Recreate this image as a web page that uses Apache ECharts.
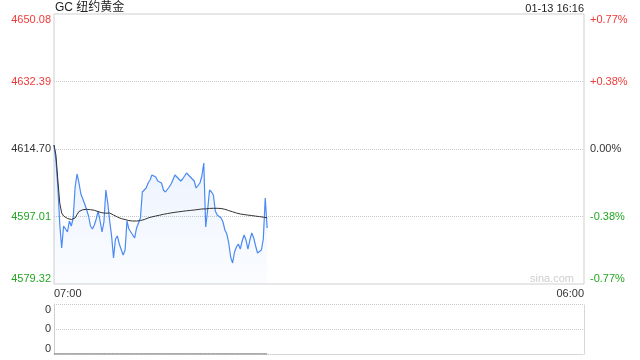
<!DOCTYPE html>
<html><head><meta charset="utf-8">
<script src="https://cdn.jsdelivr.net/npm/echarts@6/dist/echarts.min.js"></script>
<style>html,body{margin:0;padding:0;background:#fff}#c{width:640px;height:360px}</style>
</head><body><div id="c"></div>
<script>
const titleText = 'GC 纽约黄金';
const dateText = '01-13 16:16';
const priceMin = 4579.32, priceMax = 4650.08;
const leftTicks = ['4579.32', '4597.01', '4614.70', '4632.39', '4650.08'];
const rightTicks = ['-0.77%', '-0.38%', '0.00%', '+0.38%', '+0.77%'];
const volTicks = ['0', '0', '0'];
const xTickLabels = ['07:00', '06:00'];

const prices = [
4615.75,4611.82,4604.74,4595.04,4588.76,4594.52,4594.00,4592.95,4595.83,4594.52,
4596.62,4604.74,4608.15,4605.79,4602.91,4603.43,4600.29,4600.02,4597.14,4594.52,
4593.73,4594.78,4596.36,4598.45,4595.83,4592.95,4595.57,4603.96,4600.55,4595.83,
4591.90,4586.13,4591.11,4591.90,4589.80,4589.80,4586.92,4588.23,4595.83,4593.73,
4592.95,4592.95,4591.38,4594.00,4593.73,4596.62,4603.43,4603.43,4604.48,4605.79,
4606.58,4607.89,4607.62,4607.36,4606.31,4606.05,4605.79,4603.96,4603.43,4603.43,
4604.74,4605.53,4606.05,4607.89,4608.41,4606.84,4606.31,4606.84,4607.36,4608.41,
4608.15,4607.36,4607.62,4606.31,4604.48,4604.48,4605.79,4607.62,4611.03,4594.26,
4598.71,4603.96,4603.43,4602.64,4598.45,4597.40,4596.88,4596.62,4595.57,4593.47,
4592.42,4590.07,4586.40,4584.82,4587.71,4589.02,4589.80,4588.49,4590.59,4592.16,
4590.85,4588.49,4590.85,4592.69,4591.38,4589.28,4587.44,4587.44,4588.23,4591.11,
4601.86,4594.00
];

const avgPrices = [
4615.75,4613.13,4606.58,4600.55,4597.93,4597.14,4596.62,4596.49,4596.36,4596.22,
4596.09,4596.62,4597.53,4598.32,4598.71,4598.79,4598.84,4598.90,4598.84,4598.79,
4598.71,4598.64,4598.45,4598.29,4598.14,4597.98,4597.88,4597.88,4597.98,4597.93,
4597.85,4597.40,4597.06,4596.88,4596.62,4596.46,4596.36,4596.22,4596.09,4595.94,
4595.83,4595.83,4595.83,4595.83,4595.83,4595.94,4596.09,4596.22,4596.41,4596.62,
4596.77,4596.91,4597.04,4597.14,4597.25,4597.35,4597.46,4597.59,4597.67,4597.77,
4597.88,4597.95,4598.03,4598.11,4598.19,4598.24,4598.29,4598.37,4598.45,4598.50,
4598.56,4598.61,4598.66,4598.71,4598.77,4598.84,4598.92,4598.98,4598.98,4599.00,
4599.05,4599.13,4599.16,4599.16,4599.16,4599.16,4599.16,4599.11,4599.03,4598.90,
4598.71,4598.56,4598.40,4598.24,4598.06,4597.93,4597.77,4597.67,4597.59,4597.51,
4597.43,4597.38,4597.32,4597.25,4597.17,4597.11,4597.06,4596.98,4596.91,4596.83,
4596.75,4596.67
];

const volumes = [
0,0,0,0,0,0,0,0,0,0, 0,0,0,0,0,0,0,0,0,0, 0,0,0,0,0,0,0,0,0,0,
0,0,0,0,0,0,0,0,0,0, 0,0,0,0,0,0,0,0,0,0, 0,0,0,0,0,0,0,0,0,0,
0,0,0,0,0,0,0,0,0,0, 0,0,0,0,0,0,0,0,0,0, 0,0,0,0,0,0,0,0,0,0,
0,0,0,0,0,0,0,0,0,0, 0,0,0,0,0,0,0,0,0,0, 0,0
];

// 5-minute time slots from 07:00 to 06:00 next day
const times = [];
for (let m = 0; m <= 1380; m += 5) {
  const t = (7 * 60 + m) % 1440;
  const h = Math.floor(t / 60), mm = t % 60;
  times.push((h < 10 ? '0' : '') + h + ':' + (mm < 10 ? '0' : '') + mm);
}
const lastIdx = times.length - 1;

const RED = '#f03a3a', GREEN = '#22a622', DARK = '#333';
const FONT = '"Liberation Sans", Arial, "Noto Sans CJK SC", sans-serif';
function tickColor(v) { return v < 2 ? GREEN : (v > 2 ? RED : DARK); }

const chart = echarts.init(document.getElementById('c'), null, { renderer: 'canvas' });
chart.setOption({
  animation: false,
  textStyle: { fontFamily: FONT },
  title: [
    { text: titleText, left: 55, top: 2, padding: 0, textStyle: { fontSize: 12, fontWeight: 'normal', color: '#222', fontFamily: FONT } },
    { text: dateText, right: 56, top: 3, padding: 0, textStyle: { fontSize: 11, fontWeight: 'normal', color: '#222', fontFamily: FONT } }
  ],
  graphic: [
    { type: 'text', right: 66, top: 273, style: { text: 'sina.com', fill: '#cfcfcf', font: '11px ' + FONT } }
  ],
  grid: [
    { left: 54, right: 56, top: 14, height: 270, show: true, borderColor: '#cfcfcf', borderWidth: 1, backgroundColor: 'transparent' },
    { left: 54, right: 56, top: 304, height: 50 }
  ],
  xAxis: [
    {
      type: 'category', gridIndex: 0, data: times, boundaryGap: false,
      axisLine: { show: false }, axisTick: { show: false }, splitLine: { show: false },
      axisLabel: {
        interval: function (i) { return i === 0 || i === lastIdx; },
        formatter: function (v, i) { return i === 0 ? xTickLabels[0] : xTickLabels[1]; },
        alignMinLabel: 'left', alignMaxLabel: 'right',
        margin: 4, fontSize: 11, color: DARK, fontFamily: FONT
      }
    },
    {
      type: 'category', gridIndex: 1, data: times, boundaryGap: false,
      axisLine: { show: true, lineStyle: { color: '#cfcfcf', type: 'dotted' } },
      axisTick: { show: false }, axisLabel: { show: false }, splitLine: { show: false }
    }
  ],
  yAxis: [
    { type: 'value', gridIndex: 0, min: priceMin, max: priceMax, show: false, splitLine: { show: false } },
    {
      type: 'value', gridIndex: 0, position: 'left', min: 0, max: 4, interval: 1,
      axisLine: { show: false }, axisTick: { show: false },
      axisLabel: {
        formatter: function (v) { return leftTicks[v]; },
        color: function (v) { return tickColor(v); },
        margin: 3, fontSize: 11, fontFamily: FONT,
        verticalAlignMinLabel: 'bottom', verticalAlignMaxLabel: 'top'
      },
      splitLine: { show: true, showMinLine: false, showMaxLine: false, lineStyle: { color: '#c8c8c8', type: 'dotted' } }
    },
    {
      type: 'value', gridIndex: 0, position: 'right', min: 0, max: 4, interval: 1,
      axisLine: { show: false }, axisTick: { show: false },
      axisLabel: {
        formatter: function (v) { return rightTicks[v]; },
        color: function (v) { return tickColor(v); },
        margin: 6, fontSize: 11, fontFamily: FONT,
        verticalAlignMinLabel: 'bottom', verticalAlignMaxLabel: 'top'
      },
      splitLine: { show: false }
    },
    {
      type: 'value', gridIndex: 1, position: 'left', min: 0, max: 2, interval: 1,
      axisLine: { show: true, lineStyle: { color: '#cfcfcf' } }, axisTick: { show: false },
      axisLabel: {
        formatter: function (v) { return volTicks[v]; },
        color: DARK, margin: 3, fontSize: 11, fontFamily: FONT,
        verticalAlignMinLabel: 'bottom', verticalAlignMaxLabel: 'top'
      },
      splitLine: { show: true, showMinLine: false, lineStyle: { color: '#c8c8c8', type: 'dotted' } }
    },
    {
      type: 'value', gridIndex: 1, position: 'right', min: 0, max: 2, interval: 1,
      axisLine: { show: true, lineStyle: { color: '#cfcfcf', type: 'dotted' } },
      axisTick: { show: false }, axisLabel: { show: false }, splitLine: { show: false }
    }
  ],
  series: [
    {
      type: 'line', name: 'price', xAxisIndex: 0, yAxisIndex: 0, data: prices,
      symbol: 'none', smooth: false,
      lineStyle: { color: '#4a8af4', width: 1.2 },
      areaStyle: {
        origin: 'start',
        color: new echarts.graphic.LinearGradient(0, 0, 0, 1, [
          { offset: 0, color: 'rgba(74,138,244,0.16)' },
          { offset: 1, color: 'rgba(74,138,244,0.03)' }
        ])
      },
      z: 3
    },
    {
      type: 'line', name: 'avg', xAxisIndex: 0, yAxisIndex: 0, data: avgPrices,
      symbol: 'none', lineStyle: { color: '#333', width: 1 }, z: 4
    },
    {
      type: 'line', name: 'volume', xAxisIndex: 1, yAxisIndex: 3, data: volumes,
      symbol: 'none', lineStyle: { color: '#555', width: 1 }, z: 4
    }
  ]
});
</script>
</body></html>
